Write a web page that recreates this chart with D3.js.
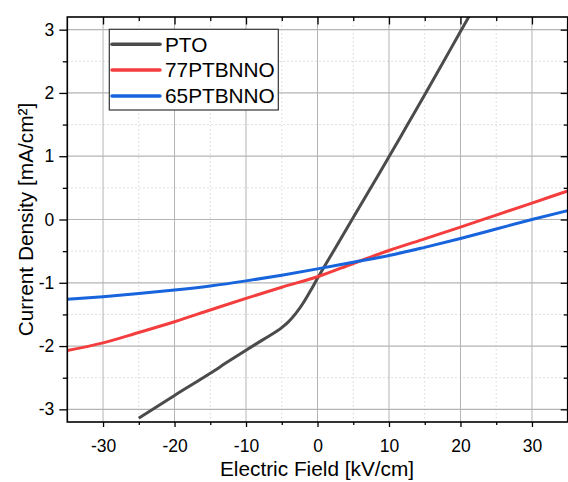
<!DOCTYPE html>
<html>
<head>
<meta charset="utf-8">
<script src="https://cdn.jsdelivr.net/npm/d3@7"></script>
<style>
  html, body { margin: 0; padding: 0; background: #fff; }
  svg { display: block; font-family: "Liberation Sans", Arial, sans-serif; }
</style>
</head>
<body>
<svg id="chart" width="568" height="482"></svg>
<script>
// J–E curves (electric field in kV/cm, current density in mA/cm²)
const seriesNames = ["PTO", "77PTBNNO", "65PTBNNO"];
const seriesColors = ["#4b4b4b", "#f43d3d", "#1764dc"];

const ptoField = [-25, -20, -15, -12.5, -10, -7.5, -5, -4, -3, -2, -1, 0, 2.5, 5, 7.5, 10, 12.5, 15, 17.5, 20, 22];
const ptoJ     = [-3.14, -2.78, -2.43, -2.245, -2.065, -1.89, -1.71, -1.61, -1.48, -1.32, -1.13, -0.93, -0.45, 0.03, 0.51, 0.99, 1.48, 1.97, 2.47, 2.97, 3.37];

const dopedField = [-35, -30, -25, -20, -15, -10, -5, 0, 5, 10, 15, 20, 25, 30, 35];
const j77 = [-2.07, -1.95, -1.785, -1.615, -1.43, -1.246, -1.07, -0.905, -0.695, -0.49, -0.305, -0.12, 0.07, 0.26, 0.45];
const j65 = [-1.26, -1.22, -1.17, -1.115, -1.05, -0.97, -0.88, -0.78, -0.675, -0.57, -0.44, -0.30, -0.15, 0.0, 0.14];

const xTicks = [-30, -20, -10, 0, 10, 20, 30];
const xMinorTicks = [-35, -25, -15, -5, 5, 15, 25, 35];
const yTicks = [-3, -2, -1, 0, 1, 2, 3];
const yMinorTicks = [-2.5, -1.5, -0.5, 0.5, 1.5, 2.5];

(function () {
  const series = [
    { name: seriesNames[0], color: seriesColors[0], pts: ptoField.map((e, i) => [e, ptoJ[i]]) },
    { name: seriesNames[1], color: seriesColors[1], pts: dopedField.map((e, i) => [e, j77[i]]) },
    { name: seriesNames[2], color: seriesColors[2], pts: dopedField.map((e, i) => [e, j65[i]]) }
  ];

  const pLeft = 67.3, pRight = 567.7, pTop = 17, pBottom = 422;
  const x = d3.scaleLinear().domain([-35, 35]).range([pLeft, pRight]);
  const y = d3.scaleLinear().domain([-3.2, 3.2]).range([pBottom, pTop]);
  const innerMinorX = xMinorTicks.filter(v => v > -35 && v < 35);

  const svg = d3.select("#chart");

  svg.append("defs").append("clipPath").attr("id", "plot-clip")
    .append("rect").attr("x", pLeft).attr("y", pTop)
    .attr("width", pRight - pLeft).attr("height", pBottom - pTop);

  // grid: dotted minor lines, solid major lines
  const grid = svg.append("g");
  grid.selectAll(".vminor").data(xMinorTicks).join("line")
    .attr("x1", d => x(d)).attr("x2", d => x(d)).attr("y1", pTop).attr("y2", pBottom)
    .attr("stroke", "#d6d6d6").attr("stroke-width", 1).attr("stroke-dasharray", "1.5,2.5");
  grid.selectAll(".hminor").data(yMinorTicks).join("line")
    .attr("y1", d => y(d)).attr("y2", d => y(d)).attr("x1", pLeft).attr("x2", pRight)
    .attr("stroke", "#d6d6d6").attr("stroke-width", 1).attr("stroke-dasharray", "1.5,2.5");
  grid.selectAll(".vmajor").data(xTicks).join("line")
    .attr("x1", d => x(d)).attr("x2", d => x(d)).attr("y1", pTop).attr("y2", pBottom)
    .attr("stroke", "#b4b4b4").attr("stroke-width", 1);
  grid.selectAll(".hmajor").data(yTicks).join("line")
    .attr("y1", d => y(d)).attr("y2", d => y(d)).attr("x1", pLeft).attr("x2", pRight)
    .attr("stroke", "#b4b4b4").attr("stroke-width", 1.2);

  // curves
  const line = d3.line().x(d => x(d[0])).y(d => y(d[1])).curve(d3.curveMonotoneX);
  svg.append("g").attr("clip-path", "url(#plot-clip)")
    .selectAll("path").data(series).join("path")
    .attr("d", d => line(d.pts))
    .attr("fill", "none").attr("stroke", d => d.color)
    .attr("stroke-width", 3).attr("stroke-linejoin", "round");

  // axes: outer ticks on bottom/left, inner mirrored ticks on top/right
  function styleAxis(g) {
    g.select(".domain").remove();
    g.selectAll(".tick line").attr("stroke", "#000").attr("stroke-width", 1.3);
    g.selectAll("text").attr("font-size", 17.5).attr("fill", "#000")
      .attr("font-family", "'Liberation Sans', Arial, sans-serif");
  }
  const fmt = d => d < 0 ? "-" + Math.abs(d) : String(d);

  svg.append("g").attr("transform", `translate(0,${pBottom})`)
    .call(d3.axisBottom(x).tickValues(xTicks).tickSize(5).tickPadding(13).tickFormat(fmt))
    .call(styleAxis);
  svg.append("g").attr("transform", `translate(0,${pBottom})`)
    .call(d3.axisBottom(x).tickValues(innerMinorX).tickSize(3).tickFormat(""))
    .call(styleAxis);
  svg.append("g").attr("transform", `translate(${pLeft},0)`)
    .call(d3.axisLeft(y).tickValues(yTicks).tickSize(8).tickPadding(5).tickFormat(fmt))
    .call(styleAxis);
  svg.append("g").attr("transform", `translate(${pLeft},0)`)
    .call(d3.axisLeft(y).tickValues(yMinorTicks).tickSize(4.5).tickFormat(""))
    .call(styleAxis);
  svg.append("g").attr("transform", `translate(0,${pTop})`)
    .call(d3.axisBottom(x).tickValues(xTicks).tickSize(7.5).tickFormat(""))
    .call(styleAxis);
  svg.append("g").attr("transform", `translate(0,${pTop})`)
    .call(d3.axisBottom(x).tickValues(innerMinorX).tickSize(4).tickFormat(""))
    .call(styleAxis);
  svg.append("g").attr("transform", `translate(${pRight},0)`)
    .call(d3.axisLeft(y).tickValues(yTicks).tickSize(7).tickFormat(""))
    .call(styleAxis);
  svg.append("g").attr("transform", `translate(${pRight},0)`)
    .call(d3.axisLeft(y).tickValues(yMinorTicks).tickSize(4).tickFormat(""))
    .call(styleAxis);

  // frame
  svg.append("rect").attr("x", pLeft).attr("y", pTop)
    .attr("width", pRight - pLeft).attr("height", pBottom - pTop)
    .attr("fill", "none").attr("stroke", "#000").attr("stroke-width", 1.6);

  // axis titles
  svg.append("text").attr("x", 317).attr("y", 476).attr("text-anchor", "middle")
    .attr("font-size", 20.8).attr("fill", "#000").text("Electric Field [kV/cm]");
  svg.append("text").attr("transform", `translate(33,${(pTop + pBottom) / 2}) rotate(-90)`)
    .attr("text-anchor", "middle").attr("font-size", 20.8).attr("fill", "#000")
    .text("Current Density [mA/cm²]");

  // legend
  const legend = svg.append("g");
  legend.append("rect").attr("x", 109.3).attr("y", 29.3).attr("width", 169).attr("height", 80.7)
    .attr("fill", "#fff").attr("stroke", "#333").attr("stroke-width", 1.2);
  const rowY = [44.3, 70, 96];
  series.forEach((s, i) => {
    legend.append("line").attr("x1", 112).attr("x2", 160).attr("y1", rowY[i]).attr("y2", rowY[i])
      .attr("stroke", s.color).attr("stroke-width", 3.5).attr("stroke-linecap", "round");
    legend.append("text").attr("x", 165).attr("y", rowY[i]).attr("dy", "0.36em")
      .attr("font-size", 20.8).attr("fill", "#000").text(s.name);
  });
})();
</script>
</body>
</html>
